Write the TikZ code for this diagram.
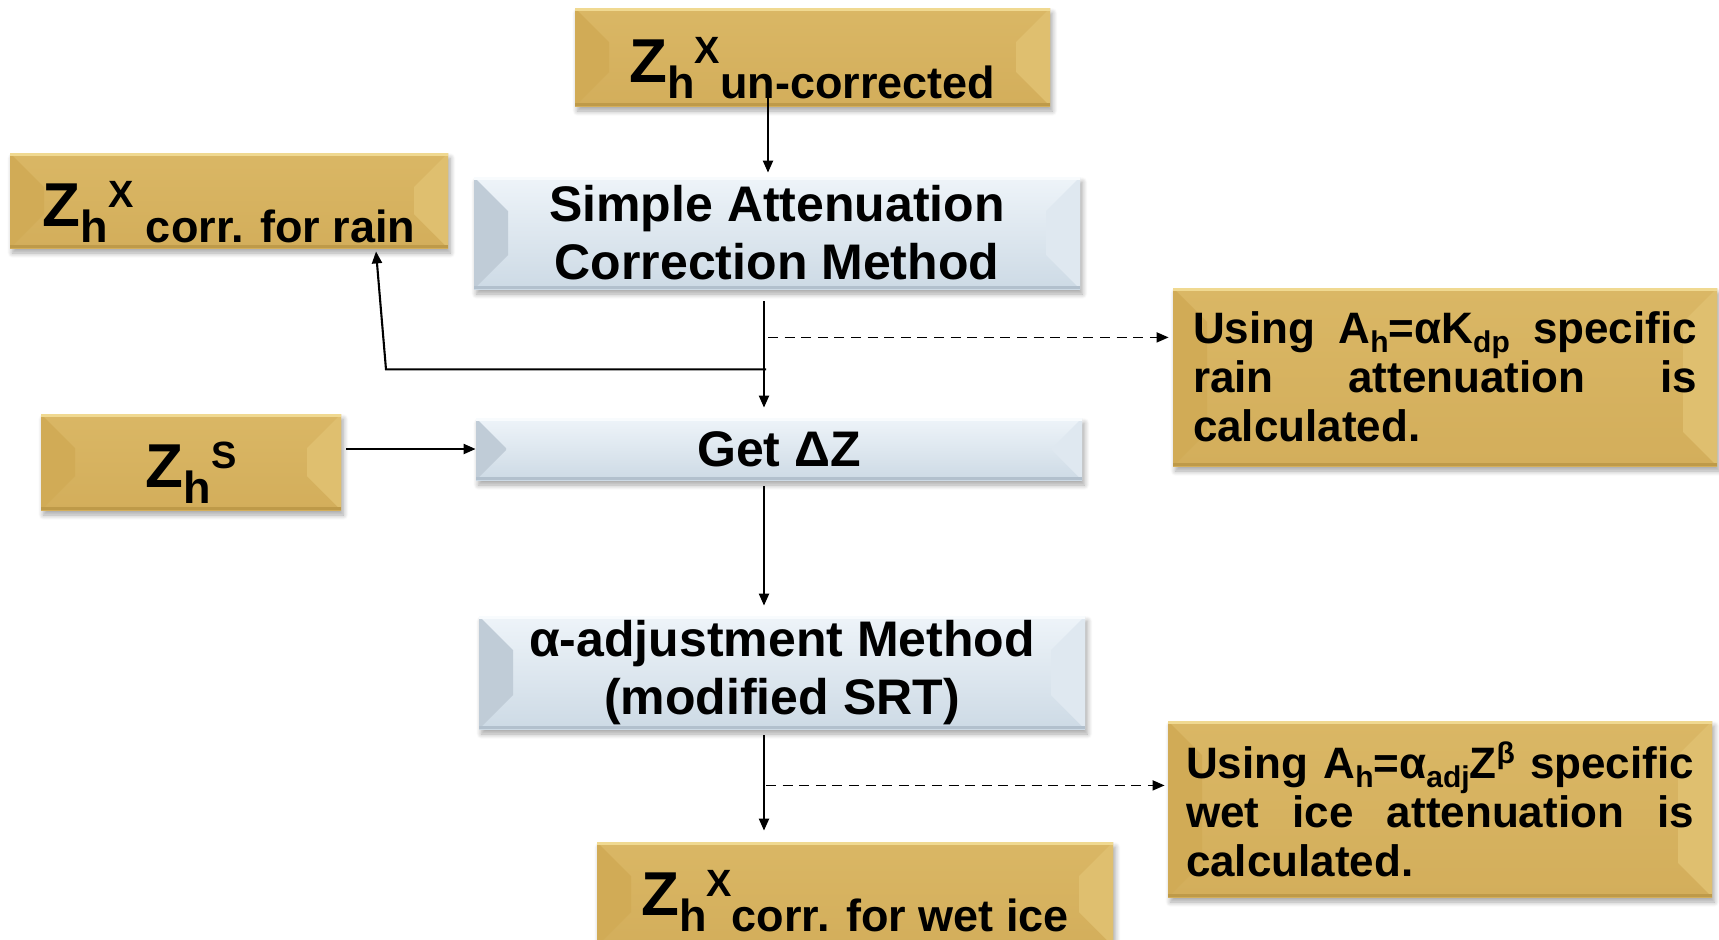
\documentclass[tikz,border=0pt]{standalone}
\usepackage{fontspec}
\setmainfont{Liberation Sans}
\usetikzlibrary{arrows.meta,shadows.blur,calc}

% panel colours
\definecolor{goldT}{RGB}{218,183,101}
\definecolor{goldB}{RGB}{211,174,91}
\definecolor{goldL}{RGB}{209,171,86}
\definecolor{goldR}{RGB}{223,191,111}
\definecolor{goldHi}{RGB}{240,217,145}
\definecolor{goldLo}{RGB}{190,154,73}
\definecolor{blueT}{RGB}{238,244,249}
\definecolor{blueB}{RGB}{205,218,229}
\definecolor{blueL}{RGB}{192,204,215}
\definecolor{blueR}{RGB}{223,232,240}
\definecolor{blueHi}{RGB}{248,251,253}
\definecolor{blueLo}{RGB}{178,192,205}

% depth of the bevelled side facets
\newcommand\bevd{17pt}

% Z_h^{sup}{sub-text} label
\newcommand\zlabel[2]{{\fontsize{31}{31}\selectfont Z}%
  \raisebox{-8pt}{\fontsize{22.5}{22.5}\selectfont h}%
  \raisebox{9.5pt}{\fontsize{19}{19}\selectfont #1}%
  \raisebox{-8pt}{\fontsize{22.5}{22.5}\selectfont #2}}
% small sub/superscripts in the note text
\newcommand\nsub[1]{\raisebox{-4.5pt}{\fontsize{15}{15}\selectfont #1}}
\newcommand\nsup[1]{\raisebox{7.5pt}{\fontsize{15}{15}\selectfont #1}}

\tikzset{
  bevel depth/.code={\renewcommand\bevd{#1}},
  panel/.style={rectangle, inner sep=0pt, text=black,
    font=\bfseries\fontsize{25}{29}\selectfont, align=center,
    blur shadow={shadow xshift=1.2pt, shadow yshift=-2.5pt,
      shadow blur radius=2.5pt, shadow blur steps=8, shadow opacity=35}},
  bevelled/.style n args={4}{path picture={
    \fill[#1] (path picture bounding box.north west)
      -- ([shift={(\bevd,-\bevd)}]path picture bounding box.north west)
      -- ([shift={(\bevd,\bevd)}]path picture bounding box.south west)
      -- (path picture bounding box.south west) -- cycle;
    \fill[#2] (path picture bounding box.north east)
      -- ([shift={(-\bevd,-\bevd)}]path picture bounding box.north east)
      -- ([shift={(-\bevd,\bevd)}]path picture bounding box.south east)
      -- (path picture bounding box.south east) -- cycle;
    \fill[#3] (path picture bounding box.north west)
      rectangle ([yshift=-1.5pt]path picture bounding box.north east);
    \fill[#4] (path picture bounding box.south west)
      rectangle ([yshift=1.5pt]path picture bounding box.south east);
  }},
  goldbox/.style={panel, top color=goldT, bottom color=goldB,
    bevelled={goldL}{goldR}{goldHi}{goldLo}},
  bluebox/.style={panel, top color=blueT, bottom color=blueB,
    bevelled={blueL}{blueR}{blueHi}{blueLo}},
  notebox/.style={goldbox, align=left,
    font=\bfseries\fontsize{22}{24.5}\selectfont},
  ztext/.style={inner sep=0pt, font=\bfseries, anchor=base},
  flow/.style={draw=black, line width=1.05pt,
    -{Triangle[length=6pt,width=5pt]}},
  hint/.style={flow, line width=0.85pt, dash pattern=on 5pt off 3.3pt},
}

\begin{document}
\begin{tikzpicture}[x=0.5pt, y=-0.5pt]
\useasboundingbox (0,0) rectangle (1719,939);

% column positions of the vertical connectors
\coordinate (colA) at (768,0);
\coordinate (colB) at (764,0);

% panels
\node[goldbox, minimum width=237.5pt, minimum height=49pt] (B1) at (812.5,57) {};
\node[ztext] (T1) at ([yshift=-12.75pt]B1.center) {\zlabel{X}{un-corrected}};

\node[goldbox, minimum width=219pt, minimum height=47.5pt] (B2) at (229,200.5) {};
\node[ztext] (T2) at ([yshift=-13pt]B2.center) {\zlabel{X}{\ corr. for rain}};

\node[bluebox, minimum width=303pt, minimum height=56pt] (B3) at (777,233)
  {Simple Attenuation\\Correction Method};

\node[notebox, minimum width=272pt, minimum height=89pt, text width=252pt] (B4) at (1445,377)
  {\makebox[252pt][s]{Using\hfill A\nsub{h}=αK\nsub{dp}\hfill specific}\\
   \makebox[252pt][s]{rain\hfill attenuation\hfill is}\\
   calculated.};

\node[goldbox, minimum width=150pt, minimum height=48pt] (B5) at (191,462) {};
\node[ztext] (T5) at ([yshift=-12.75pt]B5.center) {\zlabel{S}{}};

\node[bluebox, bevel depth=15pt, minimum width=303pt, minimum height=31pt] (B6) at (779,449)
  {Get ΔZ};

\node[bluebox, minimum width=303pt, minimum height=56.5pt] (B7) at (782,672.5)
  {α-adjustment Method\\(modified SRT)};

\node[notebox, minimum width=272pt, minimum height=88pt, text width=254pt] (B8) at (1440,809)
  {\makebox[254pt][s]{Using\hfill A\nsub{h}=α\nsub{adj}Z\nsup{β}\hfill specific}\\
   \makebox[254pt][s]{wet\hfill ice\hfill attenuation\hfill is}\\
   calculated.};

\node[goldbox, minimum width=258pt, minimum height=52pt] (B9) at (855,894) {};
\node[ztext] (T9) at ([yshift=-10.5pt]B9.center) {\zlabel{X}{corr. for wet ice}};

% connectors
\draw[flow] ([yshift=12pt]B1.south -| colA) -- ([yshift=2pt]B3.north -| colA);
\draw[flow] ([yshift=-6pt]B3.south -| colB) -- ([yshift=5pt]B6.north -| colB);

\coordinate (brk) at ([yshift=-40pt]B3.south -| colB);
\draw[flow] ([xshift=1pt]brk) -- ++(-380,0) -- ([shift={(73.5pt,-1.5pt)}]B2.south);

\coordinate (d1) at ([yshift=-24pt]B3.south -| colA);
\draw[hint] (d1) -- ([xshift=-2pt]B4.west |- d1);

\draw[flow] ([xshift=2.5pt]B5.east |- B6.west) -- (B6.west);
\draw[flow] ([yshift=-3pt]B6.south -| colB) -- ([yshift=5pt]B7.north -| colB);
\draw[flow] ([yshift=-3pt]B7.south -| colB) -- ([yshift=5.5pt]B9.north -| colB);

\coordinate (d2) at ([yshift=-28pt]B7.south -| colB);
\draw[hint] ([xshift=1pt]d2) -- ([xshift=-1.5pt]B8.west |- d2);
\end{tikzpicture}
\end{document}
